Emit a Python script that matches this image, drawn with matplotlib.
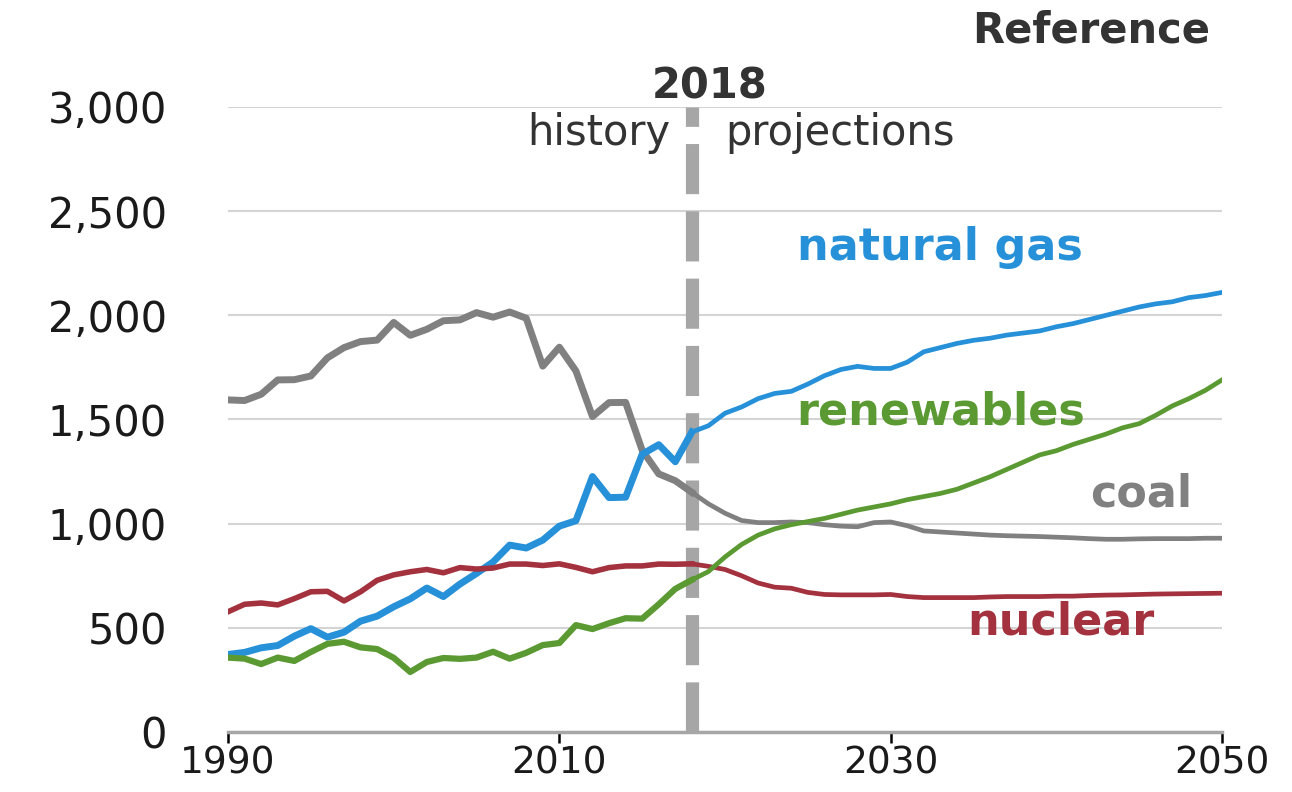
import matplotlib
matplotlib.use('Agg')
import matplotlib.pyplot as plt

# 历史数据 1990-2018
hist_years = list(range(1990, 2019))
coal_hist = [1594, 1591, 1621, 1690, 1691, 1709, 1796, 1845, 1874, 1881, 1966, 1904, 1933, 1974, 1978,
             2013, 1991, 2016, 1986, 1756, 1847, 1733, 1514, 1581, 1582, 1352, 1239, 1206, 1150]
gas_hist = [372, 382, 404, 415, 460, 496, 455, 479, 532, 556, 601, 639, 691, 650, 710,
            761, 816, 897, 883, 921, 988, 1014, 1226, 1125, 1127, 1333, 1379, 1297, 1440]
nuclear_hist = [577, 613, 619, 610, 640, 673, 675, 629, 673, 728, 754, 769, 780, 764, 789,
                782, 787, 806, 806, 799, 807, 790, 769, 789, 797, 797, 806, 805, 807]
renew_hist = [357, 352, 326, 357, 341, 384, 423, 433, 406, 398, 356, 288, 336, 355, 351,
              357, 385, 352, 380, 417, 427, 513, 494, 522, 546, 544, 613, 687, 730]

# 预测数据 2018-2050
proj_years = list(range(2018, 2051))
coal_proj = [1150, 1095, 1050, 1015, 1005, 1005, 1008, 1005, 995, 988, 985, 1005, 1008, 990, 965, 960, 955,
             950, 945, 942, 940, 938, 935, 932, 928, 925, 925, 927, 928, 928, 928, 930, 930]
gas_proj = [1440, 1470, 1530, 1560, 1600, 1625, 1635, 1670, 1710, 1740, 1755, 1745, 1745, 1775, 1825, 1845, 1865,
            1880, 1890, 1905, 1915, 1925, 1945, 1960, 1980, 2000, 2020, 2040, 2055, 2065, 2085, 2095, 2110]
nuclear_proj = [807, 795, 780, 750, 715, 695, 690, 670, 660, 658, 658, 658, 660, 650, 645, 645, 645,
                645, 648, 650, 650, 650, 652, 652, 655, 657, 658, 660, 662, 663, 664, 665, 666]
renew_proj = [730, 770, 840, 900, 945, 975, 995, 1010, 1025, 1045, 1065, 1080, 1095, 1115, 1130, 1145, 1165,
              1195, 1225, 1260, 1295, 1330, 1350, 1380, 1405, 1430, 1460, 1480, 1520, 1565, 1600, 1640, 1690]

x_ticks = [1990, 2010, 2030, 2050]
y_ticks = [0, 500, 1000, 1500, 2000, 2500, 3000]

# 颜色
c_gas = '#2690d8'
c_coal = '#808080'
c_nuclear = '#a3323e'
c_renew = '#5b9a32'

plt.rcParams['font.family'] = ['DejaVu Sans']

fig, ax = plt.subplots(figsize=(12.92, 7.92), dpi=100)
fig.subplots_adjust(left=0.1765, right=0.9458, bottom=0.0758, top=0.8649)

# 网格线
ax.set_axisbelow(True)
ax.grid(axis='y', color='#d4d4d4', linewidth=1.5)
ax.grid(axis='x', visible=False)

# 2018 分隔虚线
ax.plot([2018, 2018], [0, 3000], color='#a6a6a6', linewidth=9.5, dashes=(3.8, 1.3),
        solid_capstyle='butt', dash_capstyle='butt', zorder=2)

# 历史曲线（较粗）和预测曲线（较细）
for hist, proj, c, lw in [(coal_hist, coal_proj, c_coal, 5),
                          (gas_hist, gas_proj, c_gas, 5),
                          (nuclear_hist, nuclear_proj, c_nuclear, 4),
                          (renew_hist, renew_proj, c_renew, 4.5)]:
    ax.plot(hist_years, hist, color=c, linewidth=lw, solid_joinstyle='round', zorder=3)
    ax.plot(proj_years, proj, color=c, linewidth=3.4, solid_joinstyle='round', zorder=3)

ax.set_xlim(1990, 2050)
ax.set_ylim(0, 3000)
ax.set_xticks(x_ticks)
ax.set_yticks(y_ticks)
ax.set_yticklabels([f'{v:,}' for v in y_ticks])

for s in ['top', 'right', 'left']:
    ax.spines[s].set_visible(False)
ax.spines['bottom'].set_color('#a6a6a6')
ax.spines['bottom'].set_linewidth(2.5)
ax.spines['bottom'].set_zorder(2.5)

# x 轴标签稍小，避免在底部被裁掉
ax.tick_params(axis='x', direction='out', length=8, width=1.8, color='black',
               labelsize=27, pad=2, labelcolor='#1a1a1a')
ax.tick_params(axis='y', length=0, labelsize=30, pad=44, labelcolor='#1a1a1a')

# 系列标签
ax.text(2033.0, 2266, 'natural gas', color=c_gas, fontsize=32, fontweight='bold', ha='center', va='baseline')
ax.text(2033.0, 1474, 'renewables', color=c_renew, fontsize=32, fontweight='bold', ha='center', va='baseline')
ax.text(2045.1, 1080, 'coal', color=c_coal, fontsize=32, fontweight='bold', ha='center', va='baseline')
ax.text(2040.3, 466, 'nuclear', color=c_nuclear, fontsize=32, fontweight='bold', ha='center', va='baseline')

# 顶部标注
ax.text(2019.1, 3039, '2018', color='#333333', fontsize=30, fontweight='bold', ha='center', va='baseline')
ax.text(2016.7, 2818, 'history', color='#333333', fontsize=30, ha='right', va='baseline')
ax.text(2020.0, 2818, 'projections', color='#333333', fontsize=30, ha='left', va='baseline')
ax.text(2049.3, 3312, 'Reference', color='#333333', fontsize=30, fontweight='bold', ha='right', va='baseline')

fig.savefig('out.png', dpi=100)
